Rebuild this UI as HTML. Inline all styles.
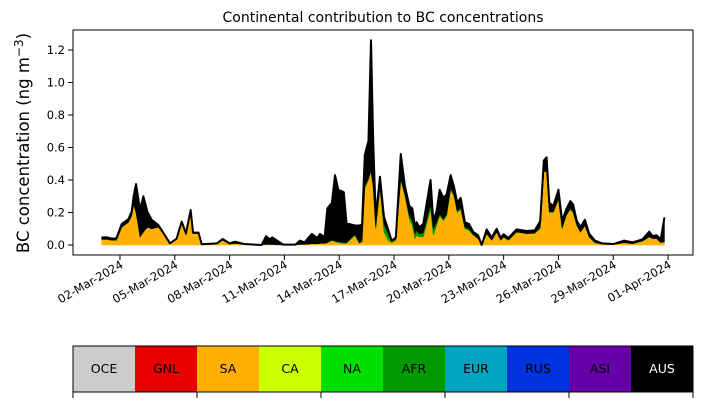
<!DOCTYPE html>
<html><head><meta charset="utf-8"><style>
body{margin:0;background:#fff;}
svg{display:block;font-family:"DejaVu Sans","Liberation Sans",sans-serif;}
</style></head><body>
<svg id="chart" width="703" height="402" viewBox="0 0 703 402" xmlns="http://www.w3.org/2000/svg">
<text x="383" y="22" font-size="14" text-anchor="middle">Continental contribution to BC concentrations</text>
<text transform="translate(29,143) rotate(-90)" font-size="16.5" text-anchor="middle">BC concentration (ng m<tspan dy="-6" font-size="12">−3</tspan><tspan dy="6">)</tspan></text>
<g id="plot"></g>
<rect x="73" y="30" width="620" height="225" fill="none" stroke="#000" stroke-width="1"/>
<g id="yaxis"></g>
<g id="xaxis"></g>
<g id="legend"></g>
</svg>
<script>
const days=[0,0.3,0.5,0.8,1.1,1.46,1.64,1.75,1.88,2.1,2.28,2.5,2.74,3.1,3.37,3.74,4.1,4.38,4.61,4.87,5.0,5.3,5.47,6.3,6.62,7.0,7.3,7.8,8.75,9.0,9.2,9.33,9.94,10.6,10.85,11.1,11.5,11.8,11.95,12.2,12.35,12.6,12.77,12.95,13.25,13.4,13.86,14.1,14.25,14.4,14.6,14.74,14.86,15.0,15.23,15.45,15.68,15.87,16.1,16.37,16.6,16.84,17.0,17.15,17.24,17.38,17.6,18.0,18.15,18.33,18.5,18.7,18.88,19.1,19.28,19.46,19.65,19.88,20.1,20.34,20.6,20.8,21.07,21.35,21.62,21.84,22.0,22.26,22.7,23.26,23.7,24.0,24.2,24.35,24.5,24.72,25.0,25.2,25.43,25.65,25.8,26.0,26.2,26.45,26.68,27.0,27.4,28.0,28.6,29.05,29.6,29.97,30.15,30.37,30.6,30.8];
const sa=[.035,.035,.03,.03,.11,.14,.18,.25,.20,.05,.08,.11,.10,.11,.07,.01,.035,.135,.065,.20,.07,.07,.003,.006,.03,.006,.01,.003,0,.005,.003,.003,0,0,.005,.004,.008,.008,.01,.01,.015,.027,.02,.015,.01,.01,.06,.01,.02,.35,.40,.45,.35,.10,.35,.08,.03,.015,.03,.40,.30,.16,.12,.04,.06,.05,.05,.22,.06,.12,.18,.15,.18,.34,.30,.20,.22,.10,.09,.06,.04,0,.07,.03,.08,.03,.05,.03,.08,.07,.07,.10,.45,.45,.20,.20,.28,.10,.18,.22,.20,.12,.08,.12,.05,.015,.005,.003,.015,.008,.025,.05,.04,.04,.015,.02];
const afr=[0,0,0,0,0,0,0,0,0,0,0,0,0,0,0,0,0,0,0,0,0,0,0,0,0,0,0,0,0,0,0,0,0,0,0,0,0,0,0,0,0,.005,.005,.005,.005,.005,.005,.005,.005,.01,.01,.01,.01,.01,.01,.05,.04,.005,.005,.01,.01,.02,.03,.03,.03,.02,.025,.03,.04,.02,.01,.01,.01,.01,.01,.01,.01,.01,.01,.005,0,0,0,0,0,0,0,0,0,0,.005,.01,.005,.005,.005,.005,.005,.005,.005,.005,.005,.005,0,0,0,0,0,0,0,0,0,0,0,0,0,0];
const aus=[.012,.012,.01,.01,.02,.018,.025,.05,.175,.165,.22,.095,.054,.013,.006,0,.005,.009,.007,.015,.006,.006,.002,.004,.007,.004,.01,.003,0,.05,.032,.044,.002,.002,.022,.012,.06,.035,.058,.037,.21,.228,.405,.32,.31,.118,.055,.105,.10,.194,.23,.80,.28,.064,.06,.044,.026,.007,.012,.15,.05,.06,.075,.04,.05,.04,.055,.15,.046,.07,.15,.13,.12,.08,.05,.05,.06,.03,.03,.015,.02,0,.026,.017,.02,.013,.016,.013,.016,.016,.015,.036,.065,.085,.055,.035,.055,.045,.035,.045,.045,.025,.03,.035,.02,.012,.005,.003,.012,.008,.01,.032,.015,.02,.02,.15];
const yTicks=[0,0.2,0.4,0.6,0.8,1.0,1.2];
const xTickDays=[1,4,7,10,13,16,19,22,25,28,31];
const xTickLabels=["02-Mar-2024","05-Mar-2024","08-Mar-2024","11-Mar-2024","14-Mar-2024","17-Mar-2024","20-Mar-2024","23-Mar-2024","26-Mar-2024","29-Mar-2024","01-Apr-2024"];
const regions=["OCE","GNL","SA","CA","NA","AFR","EUR","RUS","ASI","AUS"];
const regionColors=["#cccccc","#e60000","#ffb000","#ccff00","#00e000","#009900","#00a5bf","#0033dd","#6600a8","#000000"];

const NS="http://www.w3.org/2000/svg";
const xs=d=>101.7+d*18.27;
const ys=v=>245-v*162.5;
function mk(tag,attrs,parent){const e=document.createElementNS(NS,tag);for(const k in attrs)e.setAttribute(k,attrs[k]);parent.appendChild(e);return e;}
const plot=document.getElementById('plot');
const layers=[["sa",sa,regionColors[2]],["afr",afr,regionColors[5]],["aus",aus,regionColors[9]]];
let base=days.map(()=>0);
layers.forEach(([nm,vals,col])=>{
  const top=base.map((b,i)=>b+vals[i]);
  let d="M"+days.map((t,i)=>xs(t).toFixed(2)+","+ys(top[i]).toFixed(2)).join("L");
  for(let i=days.length-1;i>=0;i--)d+="L"+xs(days[i]).toFixed(2)+","+ys(base[i]).toFixed(2);
  d+="Z";
  const p=mk('path',{d:d,fill:col,stroke:col,'stroke-width':0.6},plot);
  
  
  base=top;
});
const ol=mk('polyline',{points:days.map((t,i)=>xs(t).toFixed(2)+","+ys(base[i]).toFixed(2)).join(" "),fill:"none",stroke:"#000","stroke-width":2,"stroke-linejoin":"round"},plot);



const ya=document.getElementById('yaxis');
yTicks.forEach(v=>{
  const y=ys(v);
  const l=mk('line',{x1:73,x2:68,y1:y,y2:y,stroke:"#000"},ya);
  
  
  const t=mk('text',{x:65,y:y+4,'font-size':11.5,'text-anchor':'end'},ya);
  t.textContent=v.toFixed(1);
  
  
});
const xa=document.getElementById('xaxis');
xTickDays.forEach((d,i)=>{
  const x=xs(d);
  const l=mk('line',{x1:x,x2:x,y1:255,y2:260,stroke:"#000"},xa);
  
  
  const t=mk('text',{transform:`translate(${x+4},${267}) rotate(-30)`,'font-size':11.5,'text-anchor':'end'},xa);
  t.textContent=xTickLabels[i];
  
  
});
const lg=document.getElementById('legend');
regions.forEach((r,i)=>{
  const x=73+i*62;
  const c=mk('rect',{x:x,y:346,width:62,height:46,fill:regionColors[i]},lg);
  
  
  const t=mk('text',{x:x+31,y:373,'font-size':12.5,'text-anchor':'middle',fill:r==="AUS"?"#fff":"#000"},lg);
  t.textContent=r;
  
  
});
const fr=mk('rect',{x:73,y:346,width:620,height:46,fill:"none",stroke:"#000"},lg);


for(let k=0;k<=5;k++){
  const x=73+k*124;
  const l=mk('line',{x1:x,x2:x,y1:392,y2:398,stroke:"#000"},lg);
  
  
}
</script>
</body></html>
